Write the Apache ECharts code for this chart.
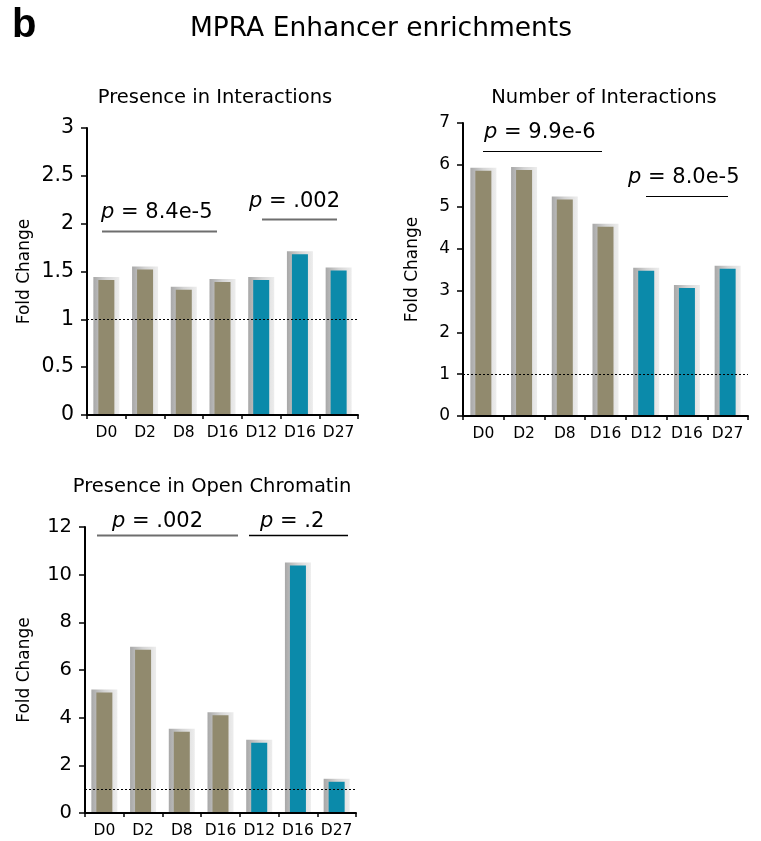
<!DOCTYPE html>
<html>
<head>
<meta charset="utf-8">
<script src="https://cdn.jsdelivr.net/npm/echarts@6/dist/echarts.min.js"></script>
<style>
  html, body { margin: 0; padding: 0; background: #fff; }
  #chart { width: 761px; height: 841px; }
</style>
</head>
<body>
<div id="chart"></div>
<script>
// Time points shared by all three panels
const categories = ['D0', 'D2', 'D8', 'D16', 'D12', 'D16', 'D27'];
// first four points belong to one time course, last three to the other
const groupOf = ['a', 'a', 'a', 'a', 'b', 'b', 'b'];

// Fold-change values per panel
const presenceInInteractions = [1.41, 1.52, 1.31, 1.39, 1.41, 1.68, 1.51];
const numberOfInteractions = [5.86, 5.88, 5.17, 4.52, 3.47, 3.06, 3.52];
const presenceInOpenChromatin = [5.06, 6.85, 3.41, 4.10, 2.95, 10.38, 1.31];

// y-axis ranges
const yRanges = [
  { max: 3, interval: 0.5 },
  { max: 7, interval: 1 },
  { max: 12, interval: 2 }
];

// p-value annotations
const pValues = ['8.4e-5', '.002', '9.9e-6', '8.0e-5', '.002', '.2'];

const panelTitles = ['Presence in Interactions', 'Number of Interactions', 'Presence in Open Chromatin'];

const COLORS = { a: '#918a6e', b: '#0b8aaa' };
const TEXT_FONT = 'DejaVu Sans';
const TICK_FONT = 'DejaVu Sans';

const grids = [
  { left: 87, top: 128, width: 271, height: 287 },
  { left: 463, top: 123, width: 285, height: 293 },
  { left: 85, top: 527, width: 271, height: 286 }
];
const tickFontSizes = [20.5, 17, 19.5];
const nameGaps = [53.5, 41.5, 51.5];

function renderBar(params, api) {
  const idx = api.value(0);
  const v = api.value(1);
  const top = api.coord([idx, v]);
  const base = api.coord([idx, 0]);
  const cx = top[0];
  const outerW = 26, innerW = 16, lift = 3;
  return {
    type: 'group',
    children: [
      {
        type: 'rect',
        shape: { x: cx - outerW / 2, y: top[1] - lift, width: outerW, height: base[1] - top[1] + lift },
        style: {
          fill: new echarts.graphic.LinearGradient(0, 0, 1, 0, [
            { offset: 0, color: '#a8a8a8' },
            { offset: 0.5, color: '#d4d4d4' },
            { offset: 1, color: '#ededed' }
          ])
        }
      },
      {
        type: 'rect',
        shape: { x: cx - innerW / 2, y: top[1], width: innerW, height: base[1] - top[1] },
        style: { fill: COLORS[groupOf[params.dataIndex]] }
      }
    ]
  };
}

const panels = [presenceInInteractions, numberOfInteractions, presenceInOpenChromatin];

const xAxes = panels.map((_, i) => ({
  type: 'category',
  gridIndex: i,
  z: 10,
  data: categories,
  boundaryGap: true,
  axisLine: { lineStyle: { color: '#000', width: 2 } },
  axisTick: { show: true, length: 4, lineStyle: { color: '#000', width: 1.5 } },
  axisLabel: { color: '#000', fontFamily: TICK_FONT, fontSize: 15.5, margin: 10, interval: 0 }
}));

const yAxes = panels.map((_, i) => ({
  type: 'value',
  gridIndex: i,
  z: 10,
  min: 0,
  max: yRanges[i].max,
  interval: yRanges[i].interval,
  name: 'Fold Change',
  nameLocation: 'middle',
  nameGap: nameGaps[i],
  nameTextStyle: { color: '#000', fontFamily: TEXT_FONT, fontSize: 17 },
  axisLine: { show: true, lineStyle: { color: '#000', width: 2 } },
  axisTick: { show: true, length: 6, lineStyle: { color: '#000', width: 1.5 } },
  splitLine: { show: false },
  axisLabel: { color: '#000', fontFamily: TICK_FONT, fontSize: tickFontSizes[i], margin: 13 }
}));

const series = panels.map((vals, i) => ({
  type: 'custom',
  xAxisIndex: i,
  yAxisIndex: i,
  renderItem: renderBar,
  encode: { x: 0, y: 1 },
  data: vals.map((v, j) => [j, v]),
  markLine: {
    silent: true,
    symbol: 'none',
    label: { show: false },
    lineStyle: { color: '#000', type: [2, 2], width: 1 },
    data: [{ yAxis: 1 }]
  }
}));

// Annotation placement: [text left, text centre y, line x1, line x2, line y, line colour, line width]
const annoPos = [
  [101, 213, 102, 217, 231.5, '#6e6e6e', 2],
  [249, 202, 262, 337, 219.5, '#6e6e6e', 2],
  [484, 133, 483, 602, 151.5, '#000', 1.2],
  [628, 178, 646, 728, 196.5, '#000', 1.2],
  [112, 522, 97, 238, 535.5, '#6e6e6e', 2],
  [260, 522, 249, 348, 535.5, '#000', 1.3]
];

const graphics = [
  { type: 'text', left: 12, top: 6, style: { text: 'b', font: 'bold 40px "Liberation Sans"', fill: '#000' } },
  { type: 'text', x: 381, y: 29, style: { text: 'MPRA Enhancer enrichments', fontFamily: TEXT_FONT, fontSize: 26.5, fill: '#000', align: 'center', verticalAlign: 'middle' } },
  { type: 'text', x: 215, y: 98, style: { text: panelTitles[0], fontFamily: TEXT_FONT, fontSize: 19.5, fill: '#000', align: 'center', verticalAlign: 'middle' } },
  { type: 'text', x: 604, y: 98, style: { text: panelTitles[1], fontFamily: TEXT_FONT, fontSize: 19.5, fill: '#000', align: 'center', verticalAlign: 'middle' } },
  { type: 'text', x: 212, y: 487, style: { text: panelTitles[2], fontFamily: TEXT_FONT, fontSize: 19.5, fill: '#000', align: 'center', verticalAlign: 'middle' } }
];

pValues.forEach((p, k) => {
  const [tx, ty, x1, x2, ly, lc, lw] = annoPos[k];
  graphics.push({
    type: 'text', x: tx, y: ty,
    style: {
      text: '{i|p} = ' + p,
      fontFamily: TEXT_FONT, fontSize: 21, fill: '#000',
      align: 'left', verticalAlign: 'middle',
      rich: { i: { fontStyle: 'italic', fontFamily: TEXT_FONT, fontSize: 21, fill: '#000' } }
    }
  });
  graphics.push({
    type: 'line',
    shape: { x1: x1, y1: ly, x2: x2, y2: ly },
    style: { stroke: lc, lineWidth: lw }
  });
});

const chart = echarts.init(document.getElementById('chart'), null, { renderer: 'canvas' });
chart.setOption({
  animation: false,
  backgroundColor: '#fff',
  grid: grids,
  xAxis: xAxes,
  yAxis: yAxes,
  series: series,
  graphic: graphics
});
</script>
</body>
</html>
